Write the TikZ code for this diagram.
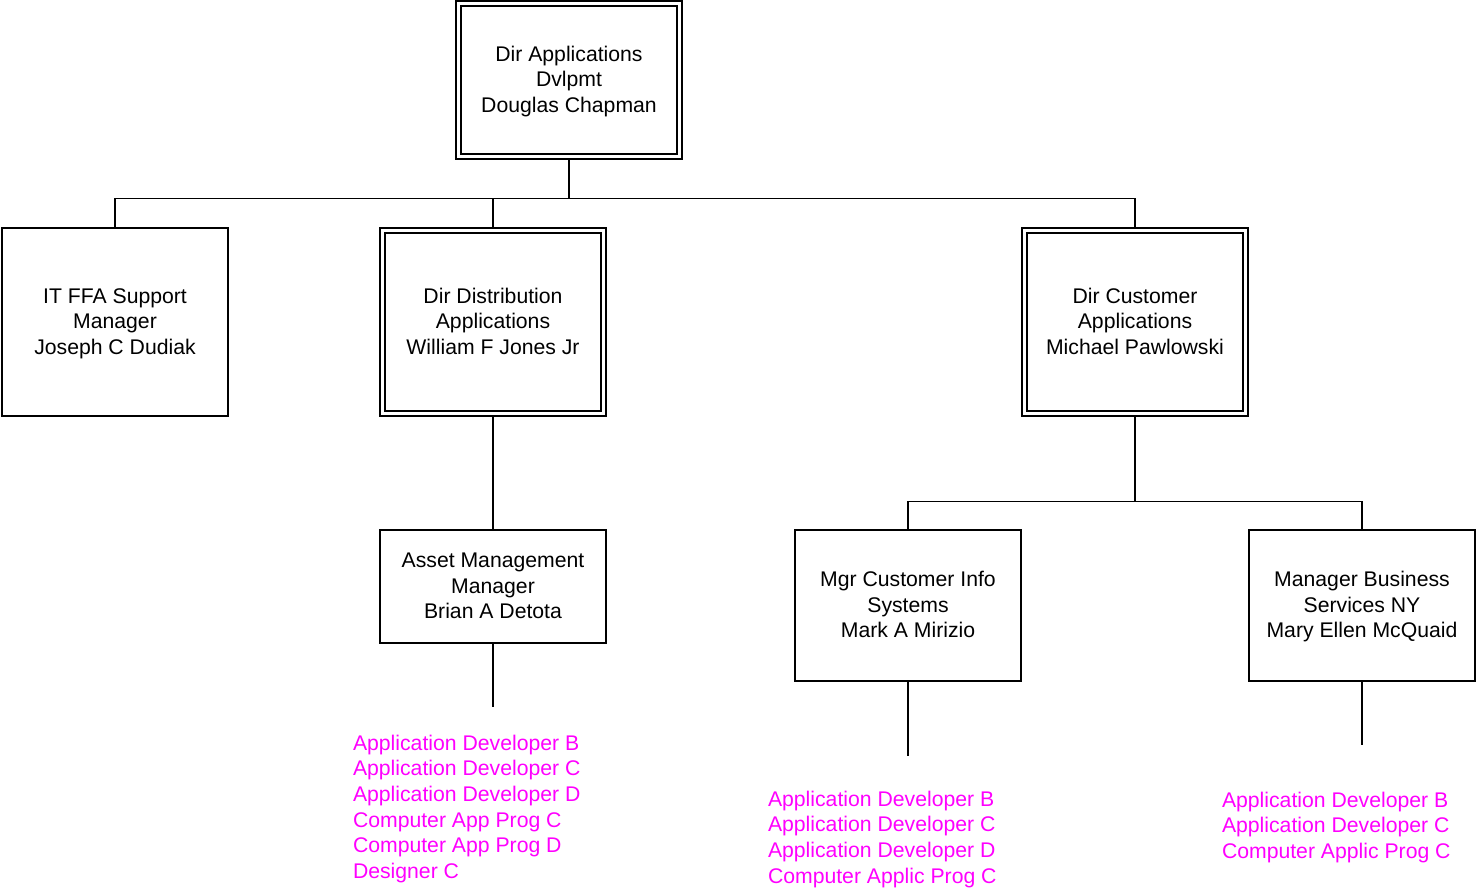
\documentclass[tikz,border=0pt]{standalone}
\usepackage{fontspec}
\setmainfont{Liberation Sans}
\definecolor{mag}{HTML}{FF00FF}
\begin{document}
\begin{tikzpicture}[x=1pt,y=-1pt,
  every node/.style={inner sep=0pt,outer sep=0pt},
  txt/.style={font=\fontsize{21.2}{25.5}\selectfont,align=center,yshift=-1.6pt},
  box/.style={draw,line width=1.5pt,minimum width=226pt},
  lbl/.style={font=\fontsize{21.2}{25.6}\selectfont,align=left,text=mag,anchor=north west},
  conn/.style={line width=1.6pt}]
\useasboundingbox (0,0) rectangle (1476,890);
% boxes
\node[box,minimum height=158pt] (top) at (569,80) {};
\node[box,minimum height=188pt] (itffa) at (115,322) {};
\node[box,minimum height=188pt] (dist) at (493,322) {};
\node[box,minimum height=188pt] (cust) at (1135,322) {};
\node[box,minimum height=113pt] (asset) at (493,586.5) {};
\node[box,minimum height=151pt] (mgrci) at (908,605.5) {};
\node[box,minimum height=151pt] (mgrbs) at (1362,605.5) {};
% inner borders
\foreach \n in {top,dist,cust}
  \draw[line width=1.5pt] ([shift={(5,5)}]\n.north west) rectangle ([shift={(-5,-5)}]\n.south east);
% texts
\node[txt] (ttop) at (top.center) {\strut Dir Applications\\Dvlpmt\\Douglas Chapman\strut};
\node[txt] (titffa) at (itffa.center) {\strut IT FFA Support\\Manager\\Joseph C Dudiak\strut};
\node[txt] (tdist) at (dist.center) {\strut Dir Distribution\\Applications\\William F Jones Jr\strut};
\node[txt] (tcust) at (cust.center) {\strut Dir Customer\\Applications\\Michael Pawlowski\strut};
\node[txt] (tasset) at (asset.center) {\strut Asset Management\\Manager\\Brian A Detota\strut};
\node[txt] (tmgrci) at (mgrci.center) {\strut Mgr Customer Info\\Systems\\Mark A Mirizio\strut};
\node[txt] (tmgrbs) at (mgrbs.center) {\strut Manager Business\\Services NY\\Mary Ellen McQuaid\strut};
% connectors
\coordinate (bus1) at (569,198.5);
\draw[conn] (top.south) -- (bus1);
\draw[conn] (itffa.north) |- (bus1) -| (cust.north);
\draw[conn] (dist.north) -- (dist.north |- bus1);
\coordinate (bus2) at (1135,501.5);
\draw[conn] (cust.south) -- (bus2);
\draw[conn] (mgrci.north) |- (bus2) -| (mgrbs.north);
\draw[conn] (dist.south) -- (asset.north);
\coordinate (e1) at (493,707);
\coordinate (e2) at (908,756);
\coordinate (e3) at (1362,745);
\draw[conn] (asset.south) -- (e1);
\draw[conn] (mgrci.south) -- (e2);
\draw[conn] (mgrbs.south) -- (e3);
% position lists
\node[lbl] (l1) at (353,735) {Application Developer B\\Application Developer C\\Application Developer D\\Computer App Prog C\\Computer App Prog D\\Designer C};
\node[lbl] (l2) at (768,791) {Application Developer B\\Application Developer C\\Application Developer D\\Computer Applic Prog C};
\node[lbl] (l3) at (1222,792) {Application Developer B\\Application Developer C\\Computer Applic Prog C};
\end{tikzpicture}
\end{document}
